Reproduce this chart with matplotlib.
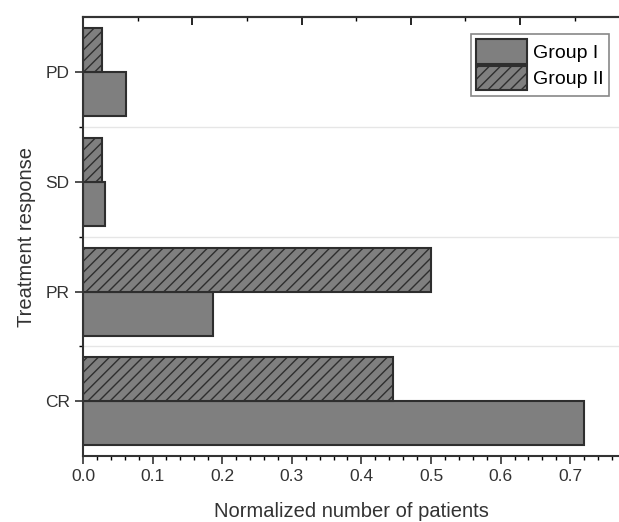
import matplotlib.pyplot as plt
from matplotlib.ticker import MultipleLocator

plt.rcParams['font.family'] = ['Liberation Sans', 'DejaVu Sans']
plt.rcParams['hatch.color'] = '#333333'
plt.rcParams['hatch.linewidth'] = 1.0

categories = ['CR', 'PR', 'SD', 'PD']
group1 = [0.72, 0.187, 0.031, 0.062]
group2 = [0.445, 0.50, 0.028, 0.028]

fig = plt.figure(figsize=(6.19, 5.22), dpi=100)
ax = fig.add_axes([0.134, 0.126, 0.866, 0.841])

pos = list(range(len(categories)))
h = 0.4
# Group I sits below the tick, Group II above it
ax.barh(pos, group1, height=-h, align='edge', color='#7f7f7f',
        edgecolor='#2e2e2e', linewidth=1.5, label='Group I')
ax.barh(pos, group2, height=h, align='edge', color='#7f7f7f',
        edgecolor='#2e2e2e', linewidth=1.5, hatch='///', label='Group II')

ax.set_xlim(0, 0.77)
ax.set_ylim(-0.5, 3.5)
ax.set_yticks(pos)
ax.set_yticklabels(categories)
ax.set_yticks([0.5, 1.5, 2.5], minor=True)
for y in [0.5, 1.5, 2.5]:
    ax.axhline(y, color='#e6e6e6', lw=1, zorder=0)

ax.xaxis.set_major_locator(MultipleLocator(0.1))
ax.xaxis.set_minor_locator(MultipleLocator(0.02))
ax.tick_params(axis='x', which='major', length=6, width=1.2, labelsize=12.5, colors='#333333')
ax.tick_params(axis='x', which='minor', length=3, width=1)
ax.tick_params(axis='y', which='major', length=6, width=1.2, labelsize=12.5, colors='#333333')
ax.tick_params(axis='y', which='minor', length=3, width=1)

ax.spines['right'].set_visible(False)
for s in ['left', 'bottom', 'top']:
    ax.spines[s].set_linewidth(1.5)
    ax.spines[s].set_color('#333333')

top = ax.secondary_xaxis('top', functions=(lambda x: x / 0.785, lambda x: x * 0.785))
top.xaxis.set_major_locator(MultipleLocator(0.2))
top.xaxis.set_minor_locator(MultipleLocator(0.1))
top.tick_params(which='major', direction='in', length=6, width=1.2, labeltop=False)
top.tick_params(which='minor', direction='in', length=3, width=1)
top.spines['top'].set_linewidth(1.5)
top.spines['top'].set_color('#333333')

ax.set_xlabel('Normalized number of patients', fontsize=14.5, color='#333333', labelpad=13)
ax.set_ylabel('Treatment response', fontsize=14.5, color='#333333', labelpad=6)

leg = ax.legend(loc='upper right', bbox_to_anchor=(1.0, 0.985), fontsize=14,
                handlelength=2.6, handleheight=1.55, borderpad=0.3,
                labelspacing=0.1, handletextpad=0.3, fancybox=False,
                edgecolor='#888888', framealpha=1)
leg.get_frame().set_linewidth(1.2)

fig.savefig('out.png', dpi=100)
